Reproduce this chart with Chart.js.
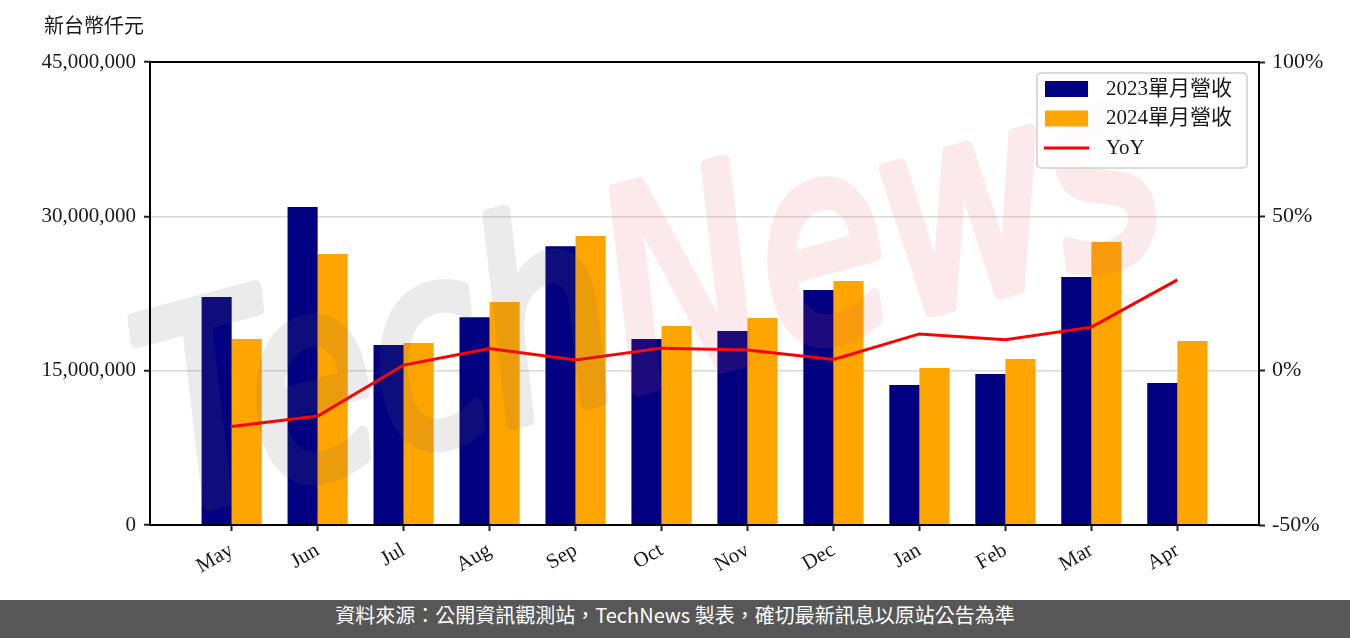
<!DOCTYPE html>
<html>
<head>
<meta charset="utf-8">
<script src="https://cdn.jsdelivr.net/npm/chart.js@4/dist/chart.umd.min.js"></script>
<style>
  html, body { margin: 0; padding: 0; background: #fff; }
  #wrap { width: 1350px; height: 638px; position: relative; overflow: hidden; }
  #footer {
    position: absolute; left: 0; top: 600px; width: 1350px; height: 38px;
    background: #575757; color: #fff; text-align: center; line-height: 38px;
    font: 20px "Noto Sans CJK TC", "Noto Sans", sans-serif;
  }
</style>
</head>
<body>
<div id="wrap">
  <canvas id="revChart" width="1350" height="600"></canvas>
  <div id="footer">資料來源：公開資訊觀測站，TechNews 製表，確切最新訊息以原站公告為準</div>
</div>
<script>
const months = ['May', 'Jun', 'Jul', 'Aug', 'Sep', 'Oct', 'Nov', 'Dec', 'Jan', 'Feb', 'Mar', 'Apr'];
const rev2023 = [22160000, 30900000, 17490000, 20200000, 27100000, 18080000, 18860000, 22840000, 13610000, 14680000, 24100000, 13800000];
const rev2024 = [18080000, 26340000, 17690000, 21670000, 28090000, 19340000, 20120000, 23710000, 15260000, 16130000, 27500000, 17880000];
const yoy = [-18.1, -14.7, 1.8, 7.2, 3.5, 7.3, 6.7, 3.6, 11.9, 10.0, 14.1, 29.4];
const leftTicks = [0, 15000000, 30000000, 45000000];
const rightTicks = [-50, 0, 50, 100];

const serif = '"Liberation Serif", "DejaVu Serif", "Noto Sans CJK TC", serif';
const ink = '#1a1a1a';

const pts = arr => arr.map((v, i) => ({ x: i, y: v }));

// watermark drawn opaque off screen, then laid over with low alpha
function watermark(w, h) {
  const c = document.createElement('canvas');
  c.width = w; c.height = h;
  const g = c.getContext('2d');
  g.translate(655, 312);
  g.rotate(-15 * Math.PI / 180);
  g.scale(0.8, 1.05);
  g.font = 'italic 260px "DejaVu Sans"';
  g.textBaseline = 'middle';
  g.lineWidth = 12;
  g.lineJoin = 'round';
  const w1 = g.measureText('Tech').width;
  const w2 = g.measureText('News').width;
  const x0 = -(w1 + w2) / 2;
  g.fillStyle = g.strokeStyle = 'rgb(99,99,99)';
  g.fillText('Tech', x0, 0);
  g.strokeText('Tech', x0, 0);
  g.fillStyle = g.strokeStyle = 'rgb(221,90,107)';
  g.fillText('News', x0 + w1, 0);
  g.strokeText('News', x0 + w1, 0);
  return c;
}

// box, title, legend and watermark drawn on top of the chart
const decor = {
  id: 'decor',
  afterDatasetsDraw(chart) {
    const ctx = chart.ctx;
    const a = chart.chartArea;

    ctx.save();
    ctx.globalAlpha = 0.13;
    ctx.drawImage(watermark(chart.width, chart.height), 0, 0);
    ctx.restore();

    // axes box
    ctx.save();
    ctx.strokeStyle = '#000';
    ctx.lineWidth = 2;
    ctx.strokeRect(a.left, a.top, a.right - a.left, a.bottom - a.top);
    ctx.restore();

    // unit title
    ctx.save();
    ctx.fillStyle = ink;
    ctx.font = '20px ' + serif;
    ctx.textBaseline = 'middle';
    ctx.fillText('新台幣仟元', 44, 28);
    ctx.restore();

    // legend
    ctx.save();
    const lx = 1037, ly = 73, lw = 210, lh = 95;
    ctx.fillStyle = 'rgba(255,255,255,0.85)';
    ctx.strokeStyle = '#d0d0d0';
    ctx.lineWidth = 1.5;
    ctx.beginPath();
    ctx.roundRect(lx, ly, lw, lh, 4);
    ctx.fill();
    ctx.stroke();
    ctx.font = '21px ' + serif;
    ctx.textBaseline = 'middle';
    const order = [1, 2, 0];
    order.forEach((di, row) => {
      const ds = chart.data.datasets[di];
      const cy = 89 + row * 29.5;
      if (ds.type === 'line') {
        ctx.strokeStyle = ds.borderColor;
        ctx.lineWidth = 3;
        ctx.beginPath();
        ctx.moveTo(1044, cy);
        ctx.lineTo(1089, cy);
        ctx.stroke();
      } else {
        ctx.fillStyle = ds.backgroundColor;
        ctx.fillRect(1045, cy - 8, 43, 16);
      }
      ctx.fillStyle = ink;
      ctx.fillText(ds.label, 1106, cy);
    });
    ctx.restore();
  }
};

new Chart(document.getElementById('revChart').getContext('2d'), {
  type: 'bar',
  data: {
    datasets: [
      {
        type: 'line',
        label: 'YoY',
        data: pts(yoy),
        yAxisID: 'y1',
        borderColor: '#ff0000',
        backgroundColor: '#ff0000',
        borderWidth: 3,
        pointRadius: 0,
        tension: 0,
        order: 0
      },
      {
        label: '2023單月營收',
        data: pts(rev2023),
        yAxisID: 'y',
        backgroundColor: '#000080',
        categoryPercentage: 0.7,
        barPercentage: 1.0,
        order: 1
      },
      {
        label: '2024單月營收',
        data: pts(rev2024),
        yAxisID: 'y',
        backgroundColor: '#ffa500',
        categoryPercentage: 0.7,
        barPercentage: 1.0,
        order: 1
      }
    ]
  },
  options: {
    responsive: false,
    animation: false,
    layout: { padding: { top: 62, left: 0, right: 0, bottom: 0 } },
    plugins: {
      legend: { display: false },
      tooltip: { enabled: false }
    },
    scales: {
      x: {
        type: 'linear',
        min: -0.95,
        max: 11.95,
        offset: false,
        afterBuildTicks: s => { s.ticks = months.map((m, i) => ({ value: i })); },
        afterFit: s => { s.height = 75; },
        border: { display: false },
        grid: {
          offset: false,
          drawOnChartArea: false,
          tickLength: 6,
          tickWidth: 2,
          tickColor: '#222'
        },
        ticks: {
          includeBounds: false,
          autoSkip: false,
          minRotation: 30,
          maxRotation: 30,
          padding: 7,
          color: ink,
          font: { family: serif, size: 21 },
          callback: v => months[v]
        }
      },
      y: {
        position: 'left',
        min: 0,
        max: 45000000,
        afterBuildTicks: s => { s.ticks = leftTicks.map(v => ({ value: v })); },
        afterFit: s => { s.width = 150; },
        border: { display: false },
        grid: {
          color: '#d9d9d9',
          lineWidth: 1.5,
          tickLength: 6,
          tickWidth: 2,
          tickColor: '#222'
        },
        ticks: {
          padding: 8,
          color: ink,
          font: { family: serif, size: 21 },
          callback: v => v.toLocaleString('en-US')
        }
      },
      y1: {
        position: 'right',
        min: -50,
        max: 100,
        afterBuildTicks: s => { s.ticks = rightTicks.map(v => ({ value: v })); },
        afterFit: s => { s.width = 91; },
        border: { display: false },
        grid: {
          drawOnChartArea: false,
          tickLength: 6,
          tickWidth: 2,
          tickColor: '#222'
        },
        ticks: {
          padding: 7,
          color: ink,
          font: { family: serif, size: 22 },
          callback: v => v + '%'
        }
      }
    }
  },
  plugins: [decor]
});
</script>
</body>
</html>
